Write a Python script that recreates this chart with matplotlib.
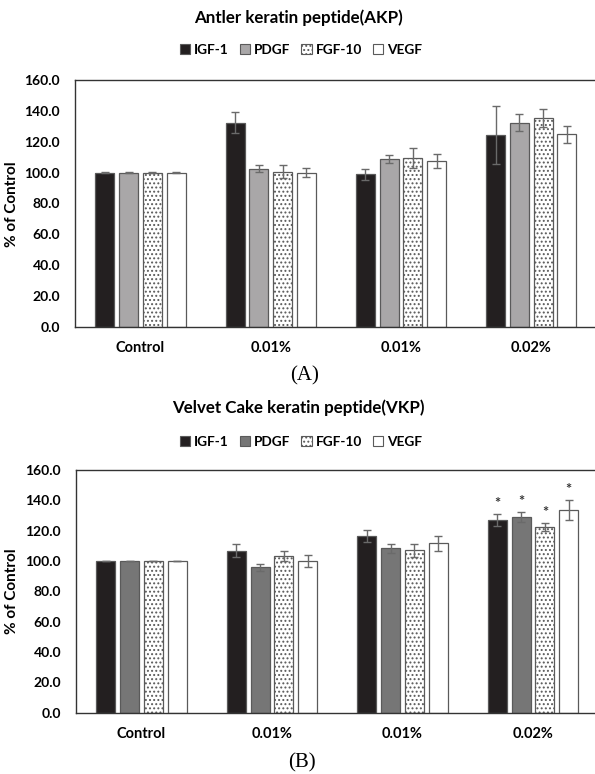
import numpy as np
import matplotlib
matplotlib.use("Agg")
import matplotlib.pyplot as plt
from matplotlib.patches import Patch

plt.rcParams['font.family'] = ['Lato', 'DejaVu Sans']
plt.rcParams['hatch.linewidth'] = 0.9

groups = ['Control', '0.01%', '0.01%', '0.02%']
series = ['IGF-1', 'PDGF', 'FGF-10', 'VEGF']

# panel A: Antler keratin peptide
akp_vals = {
    'IGF-1':  [100.0, 132.4, 98.8, 124.2],
    'PDGF':   [100.0, 102.6, 108.9, 132.4],
    'FGF-10': [100.0, 100.7, 109.3, 135.2],
    'VEGF':   [100.0, 100.0, 107.6, 124.9],
}
akp_err = {
    'IGF-1':  [0.3, 6.9, 3.6, 18.8],
    'PDGF':   [0.2, 2.5, 2.5, 5.7],
    'FGF-10': [0.2, 4.4, 6.4, 5.7],
    'VEGF':   [0.2, 3.0, 4.3, 5.5],
}

# panel B: Velvet Cake keratin peptide
vkp_vals = {
    'IGF-1':  [100.0, 106.8, 116.5, 127.0],
    'PDGF':   [100.0, 96.0, 108.4, 129.0],
    'FGF-10': [100.0, 103.3, 107.0, 122.6],
    'VEGF':   [100.0, 100.0, 111.6, 133.4],
}
vkp_err = {
    'IGF-1':  [0.2, 4.4, 4.0, 3.7],
    'PDGF':   [0.2, 2.3, 2.9, 3.1],
    'FGF-10': [0.2, 3.2, 4.2, 2.7],
    'VEGF':   [0.2, 4.2, 4.8, 6.6],
}
vkp_star = [False, False, False, True]

dark = '#231f20'
fill_a = {'IGF-1': dark, 'PDGF': '#a9a7a8', 'FGF-10': 'white', 'VEGF': 'white'}
fill_b = {'IGF-1': dark, 'PDGF': '#767676', 'FGF-10': 'white', 'VEGF': 'white'}
hatch = {'IGF-1': None, 'PDGF': None, 'FGF-10': '....', 'VEGF': None}

fig = plt.figure(figsize=(5.95, 7.74), dpi=100)

step = 0.182
width = 0.146
x = np.arange(len(groups))


def panel(ax, vals, errs, fills, stars=None):
    for i, s in enumerate(series):
        pos = x + (i - 1.5) * step
        ax.bar(pos, vals[s], width, color=fills[s], edgecolor='#5a5a5a',
               linewidth=0.9, hatch=hatch[s], zorder=2)
        ax.errorbar(pos, vals[s], yerr=errs[s], fmt='none', ecolor='#6a6a6a',
                    elinewidth=1.0, capsize=3.2, capthick=1.0, zorder=3)
        if stars is not None:
            for j in range(len(groups)):
                if stars[j]:
                    ax.text(pos[j], vals[s][j] + errs[s][j] + 2.0, '*',
                            ha='center', va='bottom', fontsize=10.5,
                            fontweight='bold', color='#333333')
    ax.set_xlim(-0.5, 4.5)
    ax.set_ylim(0, 160)
    ax.set_yticks(np.arange(0, 161, 20))
    ax.set_yticklabels(['%.1f' % v for v in np.arange(0, 161, 20)])
    ax.set_xticks(x)
    ax.set_xticklabels(groups)
    ax.tick_params(axis='both', length=0)
    ax.tick_params(axis='y', pad=11, labelsize=10)
    ax.tick_params(axis='x', pad=10, labelsize=10.5)
    for lab in ax.get_xticklabels() + ax.get_yticklabels():
        lab.set_fontweight('bold')
    for sp in ax.spines.values():
        sp.set_color('#333333')
        sp.set_linewidth(1.0)


def legend(fills, cx, y):
    handles = [Patch(facecolor=fills[s], edgecolor='#5a5a5a', linewidth=0.8,
                     hatch=hatch[s], label=s) for s in series]
    fig.legend(handles=handles, loc='center', bbox_to_anchor=(cx / 595, y),
               ncol=4, frameon=False, handlelength=0.75, handleheight=0.75,
               handletextpad=0.3, columnspacing=0.8,
               prop={'weight': 'bold', 'size': 9.8})


ax1 = fig.add_axes([75.3 / 595, 1 - 327 / 774, 651.5 / 595, 247 / 774])
panel(ax1, akp_vals, akp_err, fill_a)
fig.text(12.5 / 595, 1 - 204 / 774, '% of Control', rotation=90, ha='center',
         va='center', fontsize=11, fontweight='bold')
fig.text(298 / 595, 1 - 18 / 774, 'Antler keratin peptide(AKP)', ha='center',
         va='center', fontsize=12.2, fontweight='bold')
legend(fill_a, 301, 1 - 50 / 774)
fig.text(305 / 595, 1 - 376 / 774, '(A)', ha='center', va='center',
         fontsize=15, family='Liberation Serif')

ax2 = fig.add_axes([76.3 / 595, 1 - 712.7 / 774, 652.5 / 595, 242.7 / 774])
panel(ax2, vkp_vals, vkp_err, fill_b, vkp_star)
fig.text(12.5 / 595, 1 - 591 / 774, '% of Control', rotation=90, ha='center',
         va='center', fontsize=11, fontweight='bold')
fig.text(298.7 / 595, 1 - 408 / 774, 'Velvet Cake keratin peptide(VKP)', ha='center',
         va='center', fontsize=12.2, fontweight='bold')
legend(fill_b, 301, 1 - 442 / 774)
fig.text(301.7 / 595, 1 - 763 / 774, '(B)', ha='center', va='center',
         fontsize=15, family='Liberation Serif')

fig.savefig('out.png', dpi=100)
